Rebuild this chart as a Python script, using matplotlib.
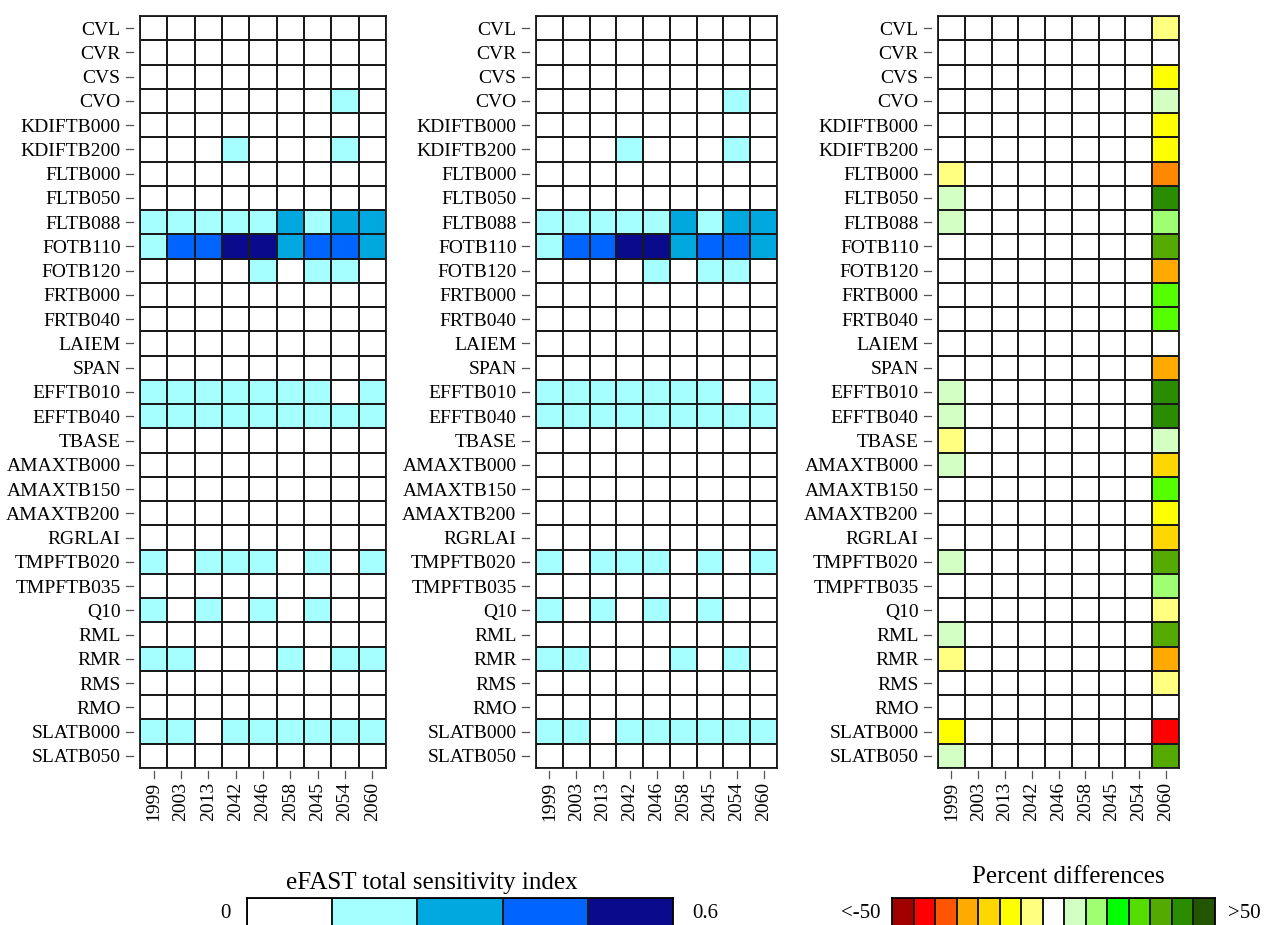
import numpy as np
import matplotlib
matplotlib.use("Agg")
import matplotlib.pyplot as plt
from matplotlib.colors import ListedColormap, BoundaryNorm
from matplotlib.lines import Line2D

plt.rcParams['font.family'] = ['Liberation Serif', 'DejaVu Serif']

params = ["CVL", "CVR", "CVS", "CVO", "KDIFTB000", "KDIFTB200", "FLTB000", "FLTB050",
          "FLTB088", "FOTB110", "FOTB120", "FRTB000", "FRTB040", "LAIEM", "SPAN",
          "EFFTB010", "EFFTB040", "TBASE", "AMAXTB000", "AMAXTB150", "AMAXTB200",
          "RGRLAI", "TMPFTB020", "TMPFTB035", "Q10", "RML", "RMR", "RMS", "RMO",
          "SLATB000", "SLATB050"]
years = ["1999", "2003", "2013", "2042", "2046", "2058", "2045", "2054", "2060"]

# eFAST total sensitivity index per parameter (rows) and year (columns)
L, A, B, C = 0.18, 0.30, 0.42, 0.54
st_a = {
    "CVO":       [0, 0, 0, 0, 0, 0, 0, L, 0],
    "KDIFTB200": [0, 0, 0, L, 0, 0, 0, L, 0],
    "FLTB088":   [L, L, L, L, L, A, L, A, A],
    "FOTB110":   [L, B, B, C, C, A, B, B, A],
    "FOTB120":   [0, 0, 0, 0, L, 0, L, L, 0],
    "EFFTB010":  [L, L, L, L, L, L, L, 0, L],
    "EFFTB040":  [L, L, L, L, L, L, L, L, L],
    "TMPFTB020": [L, 0, L, L, L, 0, L, 0, L],
    "Q10":       [L, 0, L, 0, L, 0, L, 0, 0],
    "RMR":       [L, L, 0, 0, 0, L, 0, L, L],
    "SLATB000":  [L, L, 0, L, L, L, L, L, L],
}
st_b = dict(st_a)
st_b["RMR"] = [L, L, 0, 0, 0, L, 0, L, 0]

# percent differences (only the 1999 and 2060 columns differ from zero)
pd_1999 = {"FLTB000": -3, "FLTB050": 3, "FLTB088": 3, "EFFTB010": 3, "EFFTB040": 3,
           "TBASE": -3, "AMAXTB000": 3, "TMPFTB020": 3, "RML": 3, "RMR": -3,
           "SLATB000": -7, "SLATB050": 3}
pd_2060 = {"CVL": -3, "CVS": -7, "CVO": 3, "KDIFTB000": -7, "KDIFTB200": -7,
           "FLTB000": -27, "FLTB050": 45, "FLTB088": 7, "FOTB110": 35, "FOTB120": -22,
           "FRTB000": 22, "FRTB040": 22, "SPAN": -22, "EFFTB010": 45, "EFFTB040": 45,
           "TBASE": 3, "AMAXTB000": -15, "AMAXTB150": 22, "AMAXTB200": -7,
           "RGRLAI": -15, "TMPFTB020": 35, "TMPFTB035": 7, "Q10": -3, "RML": 35,
           "RMR": -22, "RMS": -3, "SLATB000": -45, "SLATB050": 35}

st_colors = ["#FFFFFF", "#A6FFFF", "#00A8E0", "#0064FF", "#0A0A8C"]
st_edges = [0, 0.12, 0.24, 0.36, 0.48, 0.6]

pd_colors = ["#A00000", "#FF0000", "#FF5500", "#FF8800", "#FFAA00", "#FFD700", "#FFFF00",
             "#FFFF80", "#FFFFFF", "#D4FFC4", "#A0FF70", "#00FF00", "#55FF00", "#55DD00",
             "#55AA00", "#2A8C00", "#225500"]
pd_edges = [-1000, -50, -40, -30, -25, -20, -10, -5, -1, 1, 5, 10, 20, 25, 30, 40, 50, 1000]
legend_pd = [0, 1, 2, 4, 5, 6, 7, 8, 9, 10, 11, 13, 14, 15, 16]


def matrix_from(rows):
    m = np.zeros((len(params), len(years)))
    for i, p in enumerate(params):
        if p in rows:
            m[i] = rows[p]
    return m


st_mat_a = matrix_from(st_a)
st_mat_b = matrix_from(st_b)
pd_mat = np.zeros((len(params), len(years)))
for i, p in enumerate(params):
    pd_mat[i, 0] = pd_1999.get(p, 0)
    pd_mat[i, -1] = pd_2060.get(p, 0)

W, H = 1267, 925
fig = plt.figure(figsize=(W / 100, H / 100), dpi=100)

panel_x = [(140, 386), (536, 777), (938, 1179)]
top, bottom = 16, 768

st_cmap = ListedColormap(st_colors)
st_norm = BoundaryNorm(st_edges, st_cmap.N)
pd_cmap = ListedColormap(pd_colors)
pd_norm = BoundaryNorm(pd_edges, pd_cmap.N)

mats = [(st_mat_a, st_cmap, st_norm), (st_mat_b, st_cmap, st_norm), (pd_mat, pd_cmap, pd_norm)]
for (x0, x1), (mat, cmap, norm) in zip(panel_x, mats):
    wpx, hpx = x1 - x0, bottom - top
    ax = fig.add_axes([x0 / W, 1 - bottom / H, wpx / W, hpx / H])
    ax.pcolormesh(np.arange(len(years) + 1), np.arange(len(params) + 1), mat,
                  cmap=cmap, norm=norm, edgecolors="#1a1a1a", linewidth=1.3)
    ax.set_xlim(0, len(years))
    ax.set_ylim(len(params), 0)
    ax.set_yticks(np.arange(len(params)) + 0.5)
    ax.set_yticklabels(params, fontsize=14)
    ax.set_xticks(np.arange(len(years)) + 0.5)
    ax.set_xticklabels(years, fontsize=14, rotation=90)
    # tick marks sit slightly away from the frame
    ax.tick_params(axis="y", length=0, pad=14)
    ax.tick_params(axis="x", length=0, pad=10)
    for yv in np.arange(len(params)) + 0.5:
        ax.add_line(Line2D([-14 / wpx, -7 / wpx], [yv, yv], transform=ax.get_yaxis_transform(),
                           color="#555555", lw=0.9, clip_on=False))
    for xv in np.arange(len(years)) + 0.5:
        ax.add_line(Line2D([xv, xv], [-3 / hpx, -10 / hpx], transform=ax.get_xaxis_transform(),
                           color="#555555", lw=0.9, clip_on=False))
    for s in ax.spines.values():
        s.set_linewidth(1.3)
        s.set_color("#1a1a1a")

# legend bar for the sensitivity index
cb1 = fig.add_axes([247 / W, -0.012, 426 / W, (925 - 898) / H + 0.012])
cb1.pcolormesh(np.arange(6), [0, 1], np.array([st_edges[:-1]]) + 0.06,
               cmap=st_cmap, norm=st_norm, edgecolors="#1a1a1a", linewidth=1.3)
cb1.set_xlim(0, 5)
cb1.set_ylim(0, 1)
cb1.set_xticks([])
cb1.set_yticks([])
for s in cb1.spines.values():
    s.set_linewidth(1.3)
fig.text(432 / W, 1 - 883 / H, "eFAST total sensitivity index", fontsize=18,
         ha="center", va="center")
fig.text(225 / W, 1 - 913 / H, "0", fontsize=15, ha="center", va="center")
fig.text(705 / W, 1 - 913 / H, "0.6", fontsize=15, ha="center", va="center")

# legend bar for the percent differences
cb2 = fig.add_axes([892 / W, -0.012, 323 / W, (925 - 898) / H + 0.012])
cb2.pcolormesh(np.arange(len(legend_pd) + 1), [0, 1], np.array([legend_pd]),
               cmap=ListedColormap(pd_colors), norm=BoundaryNorm(np.arange(18) - 0.5, 17),
               edgecolors="#1a1a1a", linewidth=1.3)
cb2.set_xlim(0, len(legend_pd))
cb2.set_ylim(0, 1)
cb2.set_xticks([])
cb2.set_yticks([])
for s in cb2.spines.values():
    s.set_linewidth(1.3)
fig.text(1068 / W, 1 - 877 / H, "Percent differences", fontsize=18,
         ha="center", va="center")
fig.text(880 / W, 1 - 913 / H, "<-50", fontsize=15, ha="right", va="center")
fig.text(1228 / W, 1 - 913 / H, ">50", fontsize=15, ha="left", va="center")

fig.savefig("out.png", dpi=100, facecolor="white")
